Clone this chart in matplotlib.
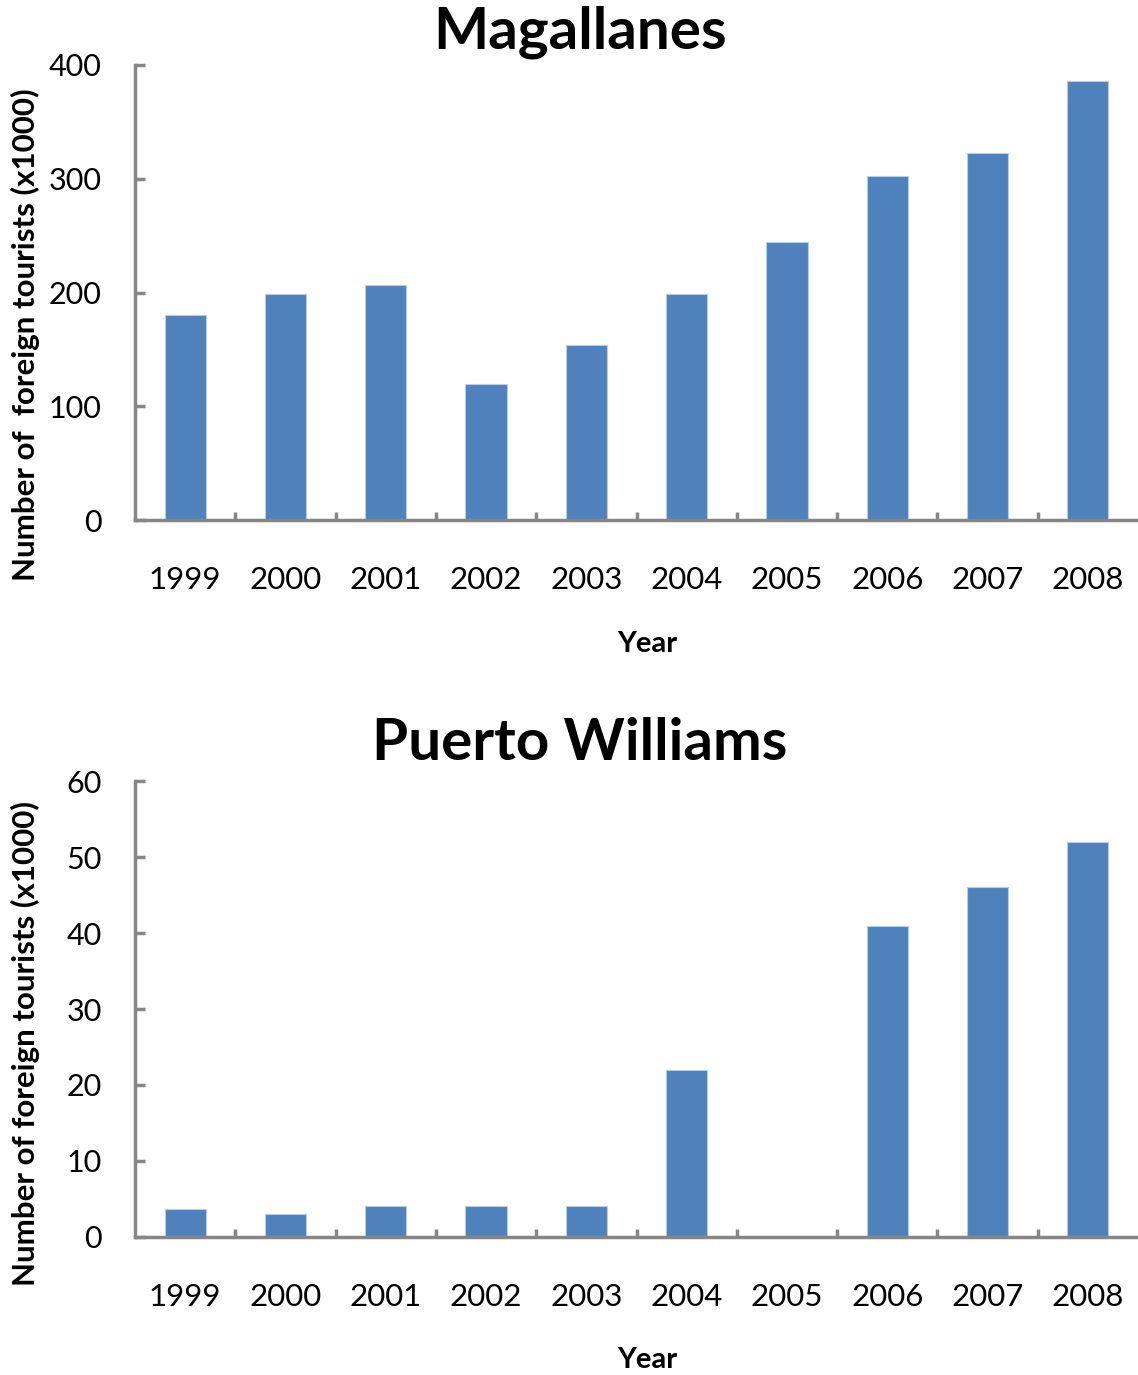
import matplotlib.pyplot as plt
import numpy as np

years = ['1999', '2000', '2001', '2002', '2003', '2004', '2005', '2006', '2007', '2008']
magallanes = [180, 199, 207, 120, 154, 199, 244, 302, 323, 386]
puerto_williams = [3.7, 3.0, 4.1, 4.1, 4.1, 22, 0, 40.9, 46, 52]

plt.rcParams['font.family'] = ['Lato', 'DejaVu Sans']

W, H = 1138, 1375
fig = plt.figure(figsize=(W / 100, H / 100), dpi=100)

bar_color = '#4F81BD'
spine_color = '#868686'


def draw_panel(top_px, bottom_px, values, ymax, ystep, title, title_y, ylabel, ylabel_y, xlabel_y):
    ax = fig.add_axes([135 / W, 1 - bottom_px / H, (W - 135) / W, (bottom_px - top_px) / H])
    x = np.arange(len(years))
    ax.bar(x, values, width=0.41, color=bar_color, edgecolor='#b8cce4', linewidth=0.8)
    ax.set_xlim(-0.5, len(years) - 0.5)
    ax.set_ylim(0, ymax)
    ax.set_yticks(np.arange(0, ymax + 1, ystep))
    ax.set_xticks(x)
    ax.set_xticklabels(years)
    ax.set_xticks(np.arange(0.5, len(years) - 0.5, 1), minor=True)
    for s in ['top', 'right']:
        ax.spines[s].set_visible(False)
    for s in ['left', 'bottom']:
        ax.spines[s].set_color(spine_color)
        ax.spines[s].set_linewidth(2.5)
    ax.tick_params(axis='x', which='major', length=0, pad=33, labelsize=22.5)
    ax.tick_params(axis='x', which='minor', direction='in', length=6, width=2.5, color=spine_color)
    ax.tick_params(axis='y', direction='in', length=7, width=2.5, color=spine_color,
                   pad=24, labelsize=22)
    fig.text(580 / W, 1 - title_y / H, title, ha='center', va='center',
             fontsize=42, fontweight='bold')
    fig.text(25 / W, 1 - ylabel_y / H, ylabel, rotation=90,
             ha='center', va='center', fontsize=22.5, fontweight='bold')
    fig.text(647 / W, 1 - xlabel_y / H, 'Year', ha='center', va='center',
             fontsize=21, fontweight='bold')
    return ax


draw_panel(65, 520, magallanes, 400, 100, 'Magallanes', 32,
           'Number of  foreign tourists (x1000)', 335, 644)
draw_panel(781, 1237, puerto_williams, 60, 10, 'Puerto Williams', 743,
           'Number of foreign tourists (x1000)', 1044, 1360)

fig.savefig('out.png', dpi=100)
